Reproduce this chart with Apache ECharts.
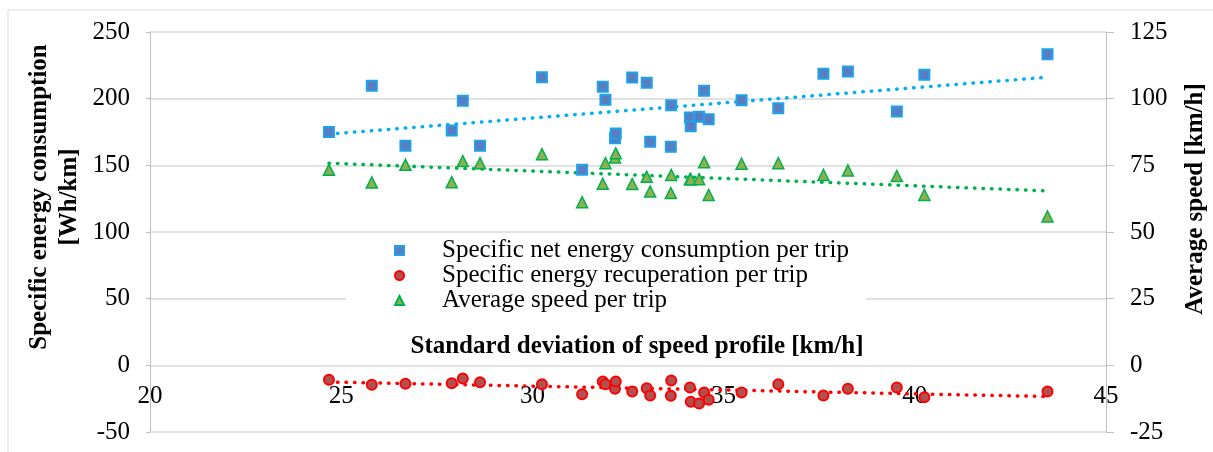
<!DOCTYPE html>
<html>
<head>
<meta charset="utf-8">
<script src="https://cdn.jsdelivr.net/npm/echarts@6/dist/echarts.min.js"></script>
<style>
  html, body { margin: 0; padding: 0; background: #fff; }
  #main { width: 1213px; height: 452px; }
</style>
</head>
<body>
<div id="main"></div>
<script>
// standard deviation of speed profile per trip [km/h]
const stdDev = [24.68, 25.8, 26.68, 27.89, 28.18, 28.63, 30.25, 31.3, 31.84, 31.91, 32.16, 32.18, 32.61, 32.99, 33.08,
  33.62, 33.63, 34.12, 34.14, 34.36, 34.49, 34.61, 35.47, 36.43, 37.61, 38.25, 39.53, 40.25, 43.47];
// specific net energy consumption [Wh/km]
const netEnergy = [175, 209.6, 164.6, 176.1, 198.4, 164.6, 216.1, 146.6, 208.9, 199.1, 170.4, 173.9, 215.9, 211.9, 167.6,
  163.9, 195.1, 185.9, 179.4, 186.4, 205.9, 184.6, 198.9, 192.9, 218.6, 220.4, 190.4, 217.9, 233.4];
// specific energy recuperation [Wh/km]
const recuperation = [-10.9, -14.6, -13.9, -13.4, -9.9, -12.6, -14.1, -21.6, -12.1, -14.1, -17.6, -12.1, -19.6, -17.1, -22.6,
  -22.9, -11.4, -16.6, -27.4, -28.6, -20.4, -25.9, -20.4, -14.1, -22.6, -17.6, -16.6, -23.9, -19.6];
// average speed [km/h]
const avgSpeed = [73.3, 68.6, 75.2, 68.7, 76.6, 75.8, 79.2, 61.2, 68.1, 75.8, 77.9, 79.5, 68.0, 70.7, 65.2,
  64.6, 71.4, 69.8, 69.8, 69.8, 76.2, 63.9, 75.6, 75.8, 71.4, 73.1, 71.0, 63.9, 55.8];

// linear trendline end points
const trendX = [24.68, 43.47];
const trendEnergy = [173.4, 216.1];
const trendRecup = [-12.5, -23.4];
const trendSpeed = [75.8, 65.4];

const xTicks = [20, 45, 5];
const leftTicks = [-50, 250, 50];
const rightTicks = [-25, 125, 25];

const pairs = (xs, ys) => xs.map((x, i) => [x, ys[i]]);

const font = 'Liberation Serif';
const gridColor = '#d9d9d9';
const axisColor = '#bfbfbf';

function trend(name, data, color, yIndex) {
  return {
    name: name,
    type: 'line',
    yAxisIndex: yIndex,
    data: data,
    symbol: 'none',
    silent: true,
    z: 1,
    lineStyle: { color: color, width: 3.5, type: [0.5, 8], cap: 'round' }
  };
}

const myChart = echarts.init(document.getElementById('main'));
const option = {
  animation: false,
  backgroundColor: '#fff',
  grid: { left: 150, right: 107, top: 32, bottom: 20, outerBoundsMode: 'none' },
  legend: {
    data: ['Specific net energy consumption per trip', 'Specific energy recuperation per trip', 'Average speed per trip'],
    orient: 'vertical',
    left: 346,
    top: 236,
    padding: [2, 17, 10, 48],
    backgroundColor: '#fff',
    itemWidth: 9,
    itemHeight: 9,
    itemGap: 0,
    textStyle: { fontFamily: font, fontSize: 25, color: '#000', lineHeight: 25, padding: [0, 0, 0, 33] }
  },
  xAxis: {
    type: 'value',
    min: xTicks[0], max: xTicks[1], interval: xTicks[2],
    // labels sit just under the zero line, as in the original
    axisLine: { show: false, onZero: false },
    axisTick: { show: false },
    splitLine: { show: false },
    axisLabel: { fontFamily: font, fontSize: 25, color: '#000', margin: -48, hideOverlap: false }
  },
  yAxis: [{
    type: 'value',
    min: leftTicks[0], max: leftTicks[1], interval: leftTicks[2],
    axisLine: { show: true, lineStyle: { color: axisColor } },
    axisTick: { show: true, length: 4, lineStyle: { color: axisColor } },
    splitLine: { show: true, lineStyle: { color: gridColor, width: 1.5 } },
    axisLabel: { fontFamily: font, fontSize: 25, color: '#000', margin: 20 }
  }, {
    type: 'value',
    position: 'right',
    min: rightTicks[0], max: rightTicks[1], interval: rightTicks[2],
    axisLine: { show: true, lineStyle: { color: axisColor } },
    axisTick: { show: true, length: 8, lineStyle: { color: axisColor } },
    splitLine: { show: false },
    axisLabel: { fontFamily: font, fontSize: 25, color: '#000', margin: 24 }
  }],
  graphic: [
    { type: 'rect', silent: true, z: -10, shape: { x: 8, y: 10, width: 1215, height: 460 },
      style: { fill: 'none', stroke: '#d9d9d9', lineWidth: 1 } },
    { type: 'text', x: 55, y: 197, rotation: Math.PI / 2, z: 100,
      style: { text: 'Specific energy consumption\n[Wh/km]', font: 'bold 25px "Liberation Serif"', fill: '#000',
        align: 'center', verticalAlign: 'middle', lineHeight: 30 } },
    { type: 'text', x: 1196, y: 199, rotation: Math.PI / 2, z: 100,
      style: { text: 'Average speed [km/h]', font: 'bold 25px "Liberation Serif"', fill: '#000',
        align: 'center', verticalAlign: 'middle' } },
    { type: 'text', x: 637, y: 347, z: 100,
      style: { text: 'Standard deviation of speed profile [km/h]', font: 'bold 25px "Liberation Serif"', fill: '#000',
        align: 'center', verticalAlign: 'middle' } }
  ],
  series: [
    trend('trendEnergy', pairs(trendX, trendEnergy), '#00b0f0', 0),
    trend('trendRecup', pairs(trendX, trendRecup), '#ff0000', 0),
    trend('trendSpeed', pairs(trendX, trendSpeed), '#00b050', 1),
    {
      name: 'Specific net energy consumption per trip',
      type: 'scatter',
      yAxisIndex: 0,
      data: pairs(stdDev, netEnergy),
      symbol: 'rect',
      symbolSize: 10,
      z: 3,
      itemStyle: { color: '#5a7cc0', borderColor: '#1ea3ea', borderWidth: 2, opacity: 1 }
    },
    {
      name: 'Specific energy recuperation per trip',
      type: 'scatter',
      yAxisIndex: 0,
      data: pairs(stdDev, recuperation),
      symbol: 'circle',
      symbolSize: 10,
      z: 3,
      itemStyle: { color: '#b0504f', borderColor: '#ff0000', borderWidth: 2, opacity: 1 }
    },
    {
      name: 'Average speed per trip',
      type: 'scatter',
      yAxisIndex: 1,
      data: pairs(stdDev, avgSpeed),
      symbol: 'triangle',
      symbolSize: 11,
      z: 3,
      itemStyle: { color: '#8fb04c', borderColor: '#00b050', borderWidth: 1.5, opacity: 1 }
    }
  ]
};
myChart.setOption(option);
</script>
</body>
</html>
